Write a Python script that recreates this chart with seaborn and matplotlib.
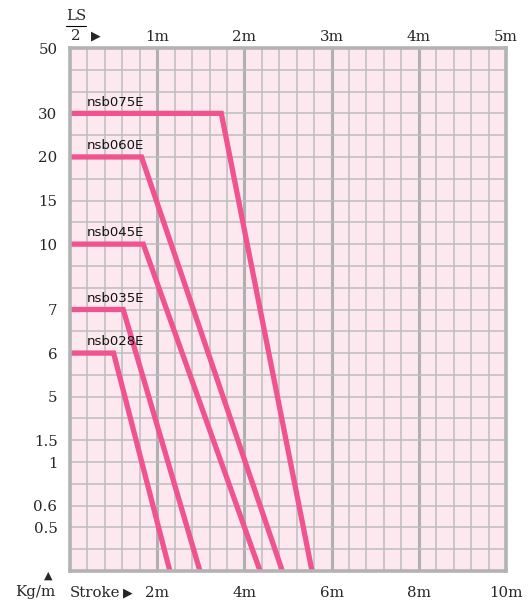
import numpy as np
import pandas as pd
import seaborn as sns
import matplotlib.pyplot as plt
from matplotlib.lines import Line2D

# y axis: printed load labels (Kg/m) and the grid row each one sits on
load_ticks = [50, 30, 20, 15, 10, 7, 6, 5, 1.5, 1, 0.6, 0.5]
load_rows = [0, 3, 5, 7, 9, 12, 14, 16, 18, 19, 21, 22]
floor_load = 0.3   # bottom edge of the chart
floor_row = 24

# series: flat at max load, then falling to the floor
models = ['nsb075E', 'nsb060E', 'nsb045E', 'nsb035E', 'nsb028E']
max_load = [30, 20, 10, 7, 6]
knee_stroke = [3.47, 1.64, 1.68, 1.22, 1.00]
end_stroke = [5.55, 4.87, 4.36, 2.98, 2.29]

stroke_ticks = [2, 4, 6, 8, 10]
half_ticks = [1, 2, 3, 4, 5]

PINK = '#EF5490'
GRID = '#BDBDBD'
BG = '#FDE8F0'
SERIF = ['DejaVu Serif', 'DejaVu Sans']
FS = 10.8


def build_frame():
    """
    Long table of the polyline vertices for each model.
    """
    rows = []
    for m, ld, kx, ex in zip(models, max_load, knee_stroke, end_stroke):
        rows.append((m, 0.0, ld))
        rows.append((m, kx, ld))
        rows.append((m, ex, floor_load))
    return pd.DataFrame(rows, columns=['model', 'stroke', 'load'])


def load_scale():
    """
    Piecewise scale so each printed load lands on its grid row.
    """
    xp = np.array([floor_load] + load_ticks[::-1], dtype=float)
    fp = -np.array([floor_row] + load_rows[::-1], dtype=float)

    def fwd(v):
        return np.interp(v, xp, fp)

    def inv(v):
        return np.interp(v, fp, xp)
    return fwd, inv


def main():
    sns.set_style('white')
    df = build_frame()

    fig = plt.figure(figsize=(5.28, 6.03), dpi=100)
    ax = fig.add_axes([70 / 528, 1 - 571 / 603, 436 / 528, 523 / 603])
    ax.set_facecolor(BG)

    fwd, inv = load_scale()
    ax.set_yscale('function', functions=(fwd, inv))
    ax.set_xlim(0, 10)
    ax.set_ylim(floor_load, load_ticks[0])

    # grid
    ax.set_yticks(load_ticks, labels=[f'{v:g}' for v in load_ticks])
    ax.set_yticks([float(inv(-r)) for r in range(floor_row + 1)], minor=True)
    ax.set_xticks(stroke_ticks, labels=[f'{v}m' for v in stroke_ticks])
    ax.set_xticks(np.arange(0, 10.01, 0.4), minor=True)
    ax.grid(which='minor', color=GRID, lw=1.1)
    ax.grid(which='major', axis='y', color=GRID, lw=1.1)
    ax.grid(which='major', axis='x', color='#B0B0B0', lw=2.2)
    ax.set_axisbelow(True)
    for s in ax.spines.values():
        s.set_color('#B3B3B3')
        s.set_linewidth(2.6)

    for m in models:
        sub = df[df['model'] == m]
        sns.lineplot(data=sub, x='stroke', y='load', sort=False,
                     estimator=None, color=PINK, lw=3.8, ax=ax,
                     solid_joinstyle='miter')

    for m, ld in zip(models, max_load):
        ax.annotate(m, (0.38, ld), xytext=(0, 5.5),
                    textcoords='offset points', va='baseline',
                    fontsize=9.5, family='DejaVu Sans', color='#111111')

    ax.set_xlabel('')
    ax.set_ylabel('')
    ax.tick_params(which='both', length=0)
    ax.tick_params(axis='y', pad=9, labelsize=FS)
    ax.tick_params(axis='x', pad=11, labelsize=FS)
    for lab in ax.get_xticklabels() + ax.get_yticklabels():
        lab.set_family(SERIF)

    # top axis: half stroke (LS/2)
    secax = ax.secondary_xaxis('top', functions=(lambda x: x / 2,
                                                 lambda x: x * 2))
    secax.set_xticks(half_ticks, labels=[f'{v}m' for v in half_ticks])
    secax.tick_params(length=0, pad=3, labelsize=FS)
    secax.spines['top'].set_visible(False)
    for lab in secax.get_xticklabels():
        lab.set_family(SERIF)

    # corner captions
    fig.text(76 / 528, 1 - 16 / 603, 'LS', ha='center', va='center',
             fontsize=FS, family=SERIF)
    fig.add_artist(Line2D([66 / 528, 86 / 528], [1 - 26 / 603, 1 - 26 / 603],
                          color='black', lw=0.8))
    fig.text(76 / 528, 1 - 36 / 603, '2', ha='center', va='center',
             fontsize=FS, family=SERIF)
    fig.text(96 / 528, 1 - 36 / 603, '▶', ha='center', va='center',
             fontsize=9, family='DejaVu Sans')
    fig.text(35 / 528, 1 - 592 / 603, 'Kg/m', ha='center', va='center',
             fontsize=FS, family=SERIF)
    fig.text(48 / 528, 1 - 576 / 603, '▲', ha='center', va='center',
             fontsize=8, family='DejaVu Sans')
    fig.text(70 / 528, 1 - 593 / 603, 'Stroke', ha='left', va='center',
             fontsize=FS, family=SERIF)
    fig.text(128 / 528, 1 - 593 / 603, '▶', ha='center', va='center',
             fontsize=9, family='DejaVu Sans')

    fig.savefig('out.png', dpi=100)


if __name__ == '__main__':
    main()
